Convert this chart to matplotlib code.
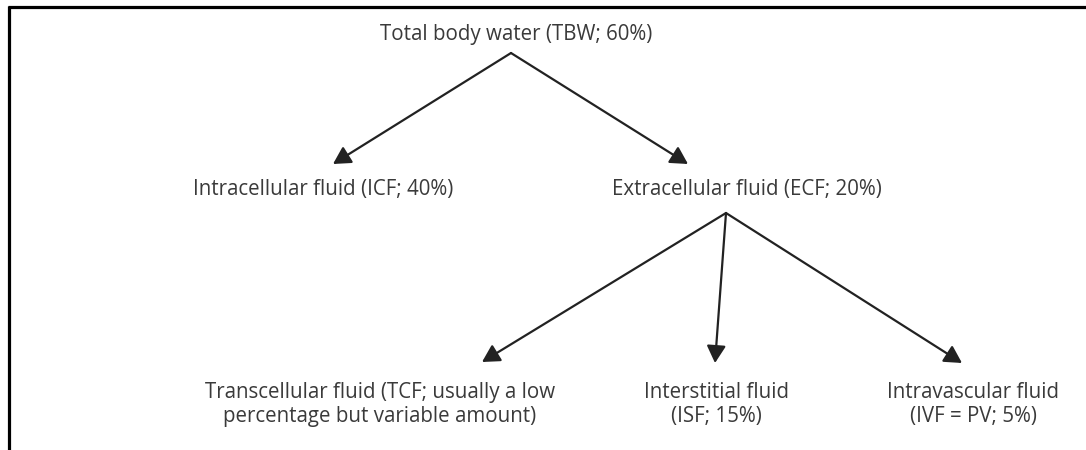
import matplotlib
matplotlib.use("Agg")
import matplotlib.pyplot as plt
from matplotlib.patches import FancyArrowPatch

# node labels of the fluid tree
root_label = "Total body water (TBW; 60%)"
level1_labels = ["Intracellular fluid (ICF; 40%)", "Extracellular fluid (ECF; 20%)"]
level2_labels = [["Transcellular fluid (TCF; usually a low", "percentage but variable amount)"],
                 ["Interstitial fluid", "(ISF; 15%)"],
                 ["Intravascular fluid", "(IVF = PV; 5%)"]]

# layout in pixel coords (y down)
root_xy = (380, 40)                 # left edge of text
level1_xy = [(453, 195), (612, 195)]  # right edge / left edge
level1_ha = ["right", "left"]
level2_x = [380, 716, 973]
level2_baselines = [398, 422]
root_apex = (511, 53)
level1_tips = [(333, 164), (688, 164)]
ecf_apex = (726, 213)
level2_tips = [(482, 362), (715, 363), (962, 363)]

text_col = "#3a3a3a"
line_col = "#222222"

fig = plt.figure(figsize=(10.86, 4.5), dpi=100)
ax = fig.add_axes([0, 0, 1, 1])
ax.set_xlim(0, 1086)
ax.set_ylim(450, 0)
ax.axis("off")

# frame: only top and left edges
ax.plot([8, 1086], [7, 7], color="black", lw=2.3, solid_capstyle="butt")
ax.plot([9, 9], [6, 450], color="black", lw=2.3, solid_capstyle="butt")

font = dict(family=["Open Sans", "DejaVu Sans"], fontsize=14.8, color=text_col)


def arrow(a, b):
    ax.add_patch(FancyArrowPatch(a, b, arrowstyle="-|>,head_length=1.05,head_width=0.58",
                                 mutation_scale=10, lw=1.6, color=line_col,
                                 shrinkA=0, shrinkB=0))


ax.text(*root_xy, root_label, ha="left", va="baseline", **font)
for (x, y), lab, ha in zip(level1_xy, level1_labels, level1_ha):
    ax.text(x, y, lab, ha=ha, va="baseline", **font)
for x, lines in zip(level2_x, level2_labels):
    for y, line in zip(level2_baselines, lines):
        ax.text(x, y, line, ha="center", va="baseline", **font)

for tip in level1_tips:
    arrow(root_apex, tip)
for tip in level2_tips:
    arrow(ecf_apex, tip)

fig.savefig("out.png", dpi=100)
